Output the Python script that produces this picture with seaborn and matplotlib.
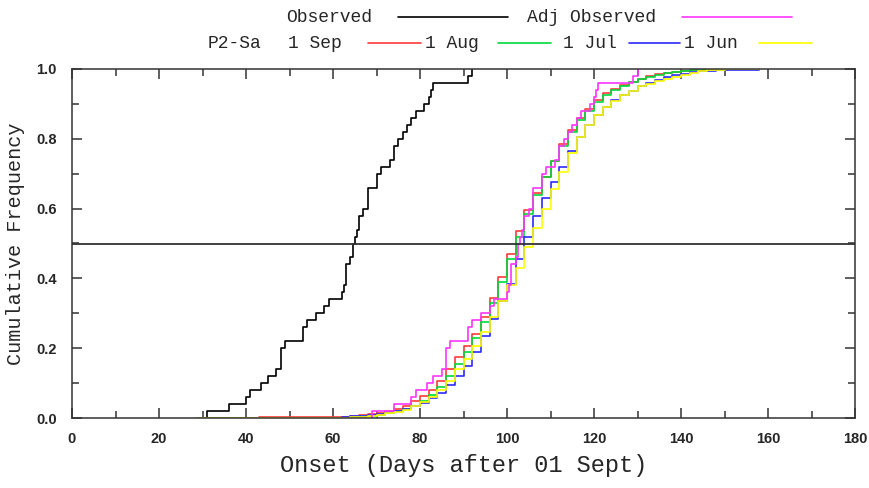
import matplotlib
matplotlib.use('Agg')
import matplotlib.pyplot as plt
from matplotlib.lines import Line2D
from matplotlib.ticker import MultipleLocator, FormatStrFormatter
import pandas as pd
import seaborn as sns

# observed onset (days after 01 Sept), one value per season
observed = [31, 36, 40, 41, 43.5, 45, 47, 48, 48, 48,
            49, 53, 53, 54, 56, 58, 59, 62, 62.5, 63,
            63, 63, 64, 64.5, 64.5, 65, 65.5, 66, 66, 67,
            68, 68, 68, 70, 70, 71, 73, 74, 74, 75,
            76, 77, 78, 79, 81, 82, 82.5, 83, 91, 92]

adj_observed = [69, 74, 78, 79, 81.5, 83, 85, 86, 86, 86,
                87, 91, 91, 92, 94, 96, 97, 100, 100.5, 101,
                101, 101, 102, 102.5, 102.5, 103, 103.5, 104, 104, 105,
                106, 106, 106, 108, 108, 109, 111, 112, 112, 113,
                114, 115, 116, 117, 119, 120, 120.5, 121, 129, 130]

# model hindcast cumulative frequency
model_days = [29, 43, 60, 62, 64, 66, 68, 70, 72, 74, 76, 78, 80, 82, 84, 86, 88, 90,
              92, 94, 96, 98, 100, 102, 104, 106, 108, 110, 112, 114, 116, 118, 120,
              122, 124, 126, 128, 130, 132, 134, 136, 138, 140, 142, 144, 146, 148, 150, 158]

sep_1 = [0.001, 0.002, 0.002, 0.004, 0.006, 0.008, 0.011, 0.015, 0.02, 0.026, 0.035, 0.048,
         0.062, 0.08, 0.105, 0.14, 0.175, 0.205, 0.24, 0.29, 0.345, 0.405, 0.47, 0.535,
         0.595, 0.645, 0.69, 0.735, 0.785, 0.825, 0.86, 0.885, 0.91, 0.93, 0.944, 0.955,
         0.964, 0.972, 0.979, 0.985, 0.989, 0.992, 0.994, 0.996, 0.998, 0.999, 1.0, 1.0, 1.0]

aug_1 = [0.0, 0.0, 0.0, 0.001, 0.003, 0.005, 0.007, 0.01, 0.014, 0.019, 0.026, 0.035,
         0.048, 0.065, 0.088, 0.12, 0.155, 0.19, 0.228, 0.275, 0.33, 0.39, 0.455, 0.52,
         0.585, 0.64, 0.69, 0.735, 0.78, 0.82, 0.855, 0.88, 0.905, 0.925, 0.94, 0.952,
         0.962, 0.97, 0.977, 0.983, 0.988, 0.992, 0.995, 0.997, 0.999, 1.0, 1.0, 1.0, 1.0]

jul_1 = [0.0, 0.0, 0.001, 0.003, 0.005, 0.007, 0.01, 0.012, 0.016, 0.02, 0.026, 0.034,
         0.044, 0.057, 0.072, 0.095, 0.12, 0.15, 0.19, 0.235, 0.285, 0.335, 0.385, 0.455,
         0.52, 0.58, 0.63, 0.675, 0.72, 0.765, 0.805, 0.84, 0.868, 0.89, 0.91, 0.925,
         0.938, 0.95, 0.96, 0.969, 0.976, 0.982, 0.987, 0.99, 0.993, 0.995, 0.996, 0.997, 1.0]

jun_1 = [0.0, 0.0, 0.0, 0.001, 0.002, 0.004, 0.006, 0.009, 0.013, 0.018, 0.024, 0.033,
         0.045, 0.06, 0.08, 0.105, 0.14, 0.17, 0.205, 0.245, 0.29, 0.335, 0.38, 0.43,
         0.49, 0.545, 0.6, 0.655, 0.705, 0.76, 0.805, 0.84, 0.868, 0.89, 0.908, 0.925,
         0.938, 0.95, 0.958, 0.965, 0.972, 0.978, 0.984, 0.989, 0.993, 0.996, 0.998, 1.0, 1.0]

model_labels = ['1 Sep', '1 Aug', '1 Jul', '1 Jun']
model_colors = ['#ff3b3b', '#00d93a', '#2b2bff', '#ffff00']

rows = []
for lab, vals in zip(model_labels, [sep_1, aug_1, jul_1, jun_1]):
    for d, v in zip(model_days, vals):
        rows.append({'run': lab, 'day': d, 'freq': v})
models = pd.DataFrame(rows)

sns.set_style('ticks')
mono = 'Liberation Mono'

fig = plt.figure(figsize=(8.7, 4.88), dpi=100)
ax = fig.add_axes([72 / 870, 70 / 488, 783 / 870, 349 / 488])

sns.ecdfplot(x=observed, color='black', lw=1.2, ax=ax)
for lab, col in zip(model_labels, model_colors):
    sns.lineplot(data=models[models.run == lab], x='day', y='freq', color=col,
                 lw=1.2, drawstyle='steps-post', ax=ax)
sns.ecdfplot(x=adj_observed, color='#ff33ff', lw=1.2, ax=ax)

ax.axhline(0.5, color='#333333', lw=1.3)

ax.set_xlim(0, 180)
ax.set_ylim(0, 1.0)
ax.xaxis.set_major_locator(MultipleLocator(20))
ax.xaxis.set_minor_locator(MultipleLocator(10))
ax.yaxis.set_major_locator(MultipleLocator(0.2))
ax.yaxis.set_minor_locator(MultipleLocator(0.1))
ax.yaxis.set_major_formatter(FormatStrFormatter('%.1f'))
ax.tick_params(which='both', direction='in', top=True, right=True, color='#333333', width=1.1)
ax.tick_params(which='major', length=7)
ax.tick_params(which='minor', length=5)
ax.tick_params(axis='x', pad=10)
ax.tick_params(axis='y', pad=11)
for lbl in ax.get_xticklabels() + ax.get_yticklabels():
    lbl.set_fontfamily('Liberation Sans')
    lbl.set_fontweight('bold')
    lbl.set_fontsize(10.5)
for s in ax.spines.values():
    s.set_color('#333333')
    s.set_linewidth(1.1)

ax.set_xlabel('Onset (Days after 01 Sept)', family=mono, fontsize=17, labelpad=6)
ax.set_ylabel('Cumulative Frequency', family=mono, fontsize=14.5, labelpad=8)

# legend drawn as text + line pieces like the original header
def fx(px):
    return px / 870

def fy(py):
    return 1 - py / 488

row1, row2 = 17, 43
fig.text(fx(286), fy(row1), 'Observed', family=mono, fontsize=13, va='center')
fig.add_artist(Line2D([fx(398), fx(508)], [fy(row1)] * 2, color='black', lw=1.2))
fig.text(fx(527), fy(row1), 'Adj Observed', family=mono, fontsize=13, va='center')
fig.add_artist(Line2D([fx(682), fx(792)], [fy(row1)] * 2, color='#ff33ff', lw=1.2))

fig.text(fx(208), fy(row2), 'P2-Sa', family=mono, fontsize=13, va='center')
label_x = [288, 425, 563, 684]
line_x = [(368, 421), (498, 551), (629, 680), (759, 812)]
for lab, col, lx, (a, b) in zip(model_labels, model_colors, label_x, line_x):
    fig.text(fx(lx), fy(row2), lab, family=mono, fontsize=13, va='center')
    fig.add_artist(Line2D([fx(a), fx(b)], [fy(row2)] * 2, color=col, lw=1.2))

fig.savefig('out.png', dpi=100)
